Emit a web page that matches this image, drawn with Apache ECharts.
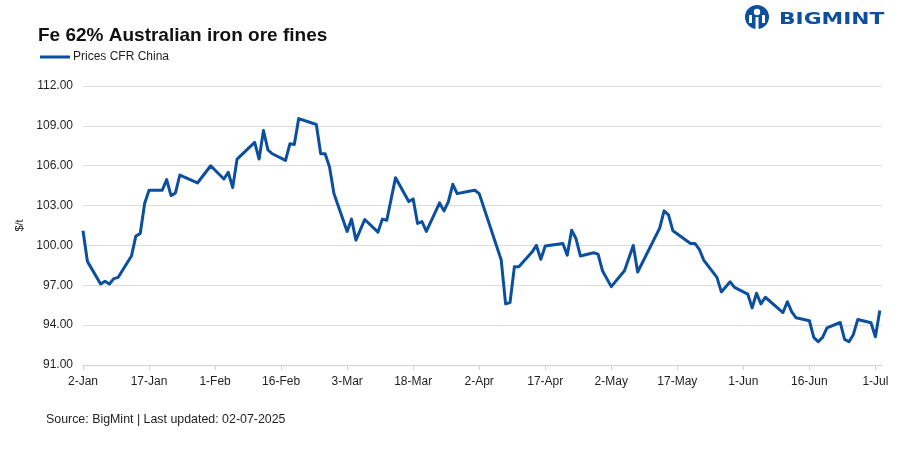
<!DOCTYPE html>
<html>
<head>
<meta charset="utf-8">
<script src="https://cdn.jsdelivr.net/npm/echarts@6/dist/echarts.min.js"></script>
<style>
html,body{margin:0;padding:0;background:#fff;}
#chart{width:907px;height:454px;}
</style>
</head>
<body>
<div id="chart"></div>
<script>
const dates = [
 '2025-01-02','2025-01-03','2025-01-06','2025-01-07','2025-01-08','2025-01-09','2025-01-10',
 '2025-01-13','2025-01-14','2025-01-15','2025-01-16','2025-01-17',
 '2025-01-20','2025-01-21','2025-01-22','2025-01-23','2025-01-24',
 '2025-01-28','2025-01-31',
 '2025-02-03','2025-02-04','2025-02-05','2025-02-06',
 '2025-02-10','2025-02-11','2025-02-12','2025-02-13','2025-02-14',
 '2025-02-17','2025-02-18','2025-02-19','2025-02-20',
 '2025-02-24','2025-02-25','2025-02-26','2025-02-27','2025-02-28',
 '2025-03-03','2025-03-04','2025-03-05','2025-03-07',
 '2025-03-10','2025-03-11','2025-03-12','2025-03-14',
 '2025-03-17','2025-03-18','2025-03-19','2025-03-20','2025-03-21',
 '2025-03-24','2025-03-25','2025-03-26','2025-03-27','2025-03-28',
 '2025-03-31','2025-04-01','2025-04-02',
 '2025-04-07','2025-04-08','2025-04-09','2025-04-10','2025-04-11',
 '2025-04-14','2025-04-15','2025-04-16','2025-04-17',
 '2025-04-21','2025-04-22','2025-04-23','2025-04-24','2025-04-25',
 '2025-04-28','2025-04-29','2025-04-30',
 '2025-05-02','2025-05-05','2025-05-07','2025-05-08',
 '2025-05-13','2025-05-14','2025-05-15','2025-05-16',
 '2025-05-20','2025-05-21','2025-05-22','2025-05-23',
 '2025-05-26','2025-05-27','2025-05-29','2025-05-30',
 '2025-06-02','2025-06-03','2025-06-04','2025-06-05','2025-06-06',
 '2025-06-10','2025-06-11','2025-06-12','2025-06-13',
 '2025-06-16','2025-06-17','2025-06-18','2025-06-19','2025-06-20',
 '2025-06-23','2025-06-24','2025-06-25','2025-06-26','2025-06-27',
 '2025-06-30','2025-07-01','2025-07-02'
];
const prices = [
 101.1, 98.8, 97.1, 97.3, 97.1, 97.5, 97.6,
 99.2, 100.7, 100.9, 103.15, 104.15,
 104.15, 104.95, 103.75, 103.95, 105.3,
 104.7, 106.0,
 105.0, 105.5, 104.35, 106.5,
 107.75, 106.5, 108.65, 107.2, 106.9,
 106.4, 107.65, 107.6, 109.55,
 109.1, 106.9, 106.9, 105.9, 103.9,
 101.05, 101.98, 100.4, 101.95,
 101.0, 101.98, 101.9, 105.1,
 103.3, 103.5, 101.65, 101.8, 101.05,
 103.2, 102.6, 103.3, 104.6, 103.9,
 104.1, 104.15, 103.9,
 98.9, 95.6, 95.7, 98.4, 98.4,
 99.5, 100.0, 98.95, 99.95,
 100.15, 99.27, 101.15, 100.5, 99.2,
 99.45, 99.35, 98.1,
 96.9, 98.1, 100.0, 98.0,
 101.3, 102.6, 102.3, 101.1,
 100.15, 100.15, 99.7, 98.9,
 97.6, 96.5, 97.26, 96.84,
 96.34, 95.3, 96.4, 95.6, 96.1,
 94.95, 95.76, 95.0, 94.55,
 94.33, 93.08, 92.75, 93.08, 93.8,
 94.2, 92.93, 92.75, 93.3, 94.43,
 94.18, 93.13, 95.1
];
const tickLabels = ['2-Jan','17-Jan','1-Feb','16-Feb','3-Mar','18-Mar','2-Apr','17-Apr','2-May','17-May','1-Jun','16-Jun','1-Jul'];
const seriesName = 'Prices CFR China';
const titleText = 'Fe 62% Australian iron ore fines';
const sourceText = 'Source: BigMint | Last updated: 02-07-2025';
const unitText = '$/t';

const startMs = Date.UTC(2025, 0, 2);
const dayIdx = d => (Date.parse(d + 'T00:00:00Z') - startMs) / 86400000;
const tickDays = tickLabels.map((_, i) => i * 15);
const seriesData = dates.map((d, i) => [dayIdx(d), prices[i]]);

const txt = '#1f1f1f';
const font = "'Liberation Sans', Arial, sans-serif";
const blue = '#0b4f9e';

const chart = echarts.init(document.getElementById('chart'), null, {renderer: 'canvas'});
chart.setOption({
  animation: false,
  backgroundColor: '#fff',
  title: {
    text: titleText, left: 33, top: 21,
    textStyle: {fontFamily: font, fontSize: 19, fontWeight: 'bold', color: '#111'}
  },
  legend: {
    left: 35, top: 46, itemWidth: 30, itemHeight: 3, itemGap: 4,
    icon: 'rect',
    textStyle: {fontFamily: font, fontSize: 12, color: txt, padding: [0,0,0,-2]},
    data: [seriesName]
  },
  grid: {left: 83, right: 25, top: 86, bottom: 89, containLabel: false},
  xAxis: {
    type: 'value', min: 0, max: 181.5, interval: 15,
    axisLine: {lineStyle: {color: '#d0d0d0', width: 1}},
    axisTick: {show: true, customValues: tickDays, length: 5, lineStyle: {color: '#d0d0d0'}},
    axisLabel: {customValues: tickDays, fontFamily: font, fontSize: 12, color: txt, margin: 11,
      formatter: v => tickLabels[Math.round(v / 15)]},
    splitLine: {show: false}
  },
  yAxis: {
    type: 'value', min: 91, max: 112, interval: 3,
    name: unitText, nameLocation: 'middle', nameGap: 58, nameRotate: 90,
    nameMoveOverlap: false,
    nameTextStyle: {fontFamily: font, fontSize: 11, color: txt},
    axisLine: {show: false}, axisTick: {show: false},
    axisLabel: {fontFamily: font, fontSize: 12, color: txt, margin: 10, formatter: v => v.toFixed(2)},
    splitLine: {lineStyle: {color: '#dcdcdc', width: 1}}
  },
  series: [{
    name: seriesName, type: 'line', data: seriesData,
    showSymbol: false, symbol: 'none',
    lineStyle: {color: blue, width: 3, join: 'round'},
    itemStyle: {color: blue}
  }],
  graphic: [
    {type: 'text', left: 46, top: 414,
     style: {text: sourceText, font: "12.4px 'Liberation Sans', Arial, sans-serif", fill: txt}},
    {type: 'group', left: 745, top: 5, children: [
      {type: 'circle', shape: {cx: 13, cy: 12, r: 12}, style: {fill: blue}},
      {type: 'circle', shape: {cx: 13, cy: 7, r: 3.2}, style: {fill: '#fff'}},
      {type: 'rect', shape: {x: 5, y: 10, width: 3, height: 8}, style: {fill: '#fff'}},
      {type: 'rect', shape: {x: 18, y: 10, width: 3, height: 8}, style: {fill: '#fff'}},
      {type: 'rect', shape: {x: 11.5, y: 12, width: 3, height: 12}, style: {fill: '#fff'}},
      {type: 'text', x: 35, y: 14.5, scaleX: 1.36,
       style: {text: 'BIGMINT', font: "bold 16px 'DejaVu Sans', sans-serif", fill: blue, textVerticalAlign: 'middle'}}
    ]}
  ]
});
</script>
</body>
</html>
